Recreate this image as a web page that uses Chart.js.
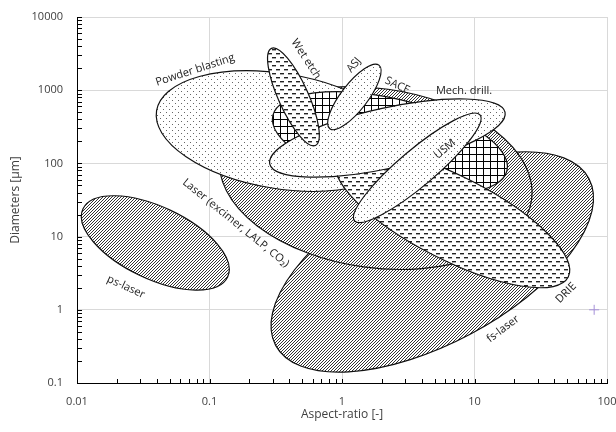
<!DOCTYPE html>
<html>
<head>
<meta charset="utf-8">
<script src="https://cdn.jsdelivr.net/npm/chart.js@4.4.1/dist/chart.umd.min.js"></script>
<style>
  html, body { margin: 0; padding: 0; background: #fff; }
  #wrap { width: 616px; height: 432px; }
</style>
</head>
<body>
<div id="wrap"><canvas id="chart"></canvas></div>
<script>
// axis decades and their labels
const xDecades = [0.01, 0.1, 1, 10, 100]
const xTickLabels = ['0.01', '0.1', '1', '10', '100']
const yDecades = [0.1, 1, 10, 100, 1000, 10000]
const yTickLabels = ['0.1', '1', '10', '100', '1000', '10000']

// process windows, drawn back to front
const regionNames = ['fs-laser', 'Laser (excimer, LALP, CO\u2082)', 'Powder blasting', 'SACE', 'DRIE',
  'Mech. drill.', 'USM', 'Wet etch', 'ASJ', 'ps-laser']
// ellipse centre [aspect-ratio, diameter]
const regionCenters = [[4.8, 4.5], [1.8, 63], [0.34, 277], [2.3, 190], [6.8, 18],
  [2.2, 222], [3.7, 87], [0.43, 810], [1.24, 810], [0.039, 8.2]]
// end of the long axis [aspect-ratio, diameter]
const regionTips = [[73, 62], [27, 32], [2.9, 146], [17.6, 80], [51, 2.8],
  [17, 500], [11, 460], [0.63, 176], [1.9, 2200], [0.137, 2.8]]
// short axis / long axis
const regionRatios = [0.46, 0.57, 0.46, 0.37, 0.32, 0.25, 0.22, 0.28, 0.33, 0.45]
// where each name is written [aspect-ratio, diameter]
const labelAt = [[16.4, 0.547], [0.158, 15.3], [0.0778, 1888], [2.62, 1160], [49.1, 1.70],
  [8.34, 975], [5.98, 157], [0.535, 2668], [1.23, 2210], [0.0234, 2.05]]

const markerPoint = [{x: 80, y: 1}]

// styles
const fillKind = {
  'fs-laser': 'hatch', 'Laser (excimer, LALP, CO\u2082)': 'hatch', 'ps-laser': 'hatch',
  'Powder blasting': 'dots', 'Mech. drill.': 'dots', 'USM': 'dots', 'ASJ': 'dots',
  'Wet etch': 'dashes', 'DRIE': 'dashes', 'SACE': 'grid'
}
const labelAngle = [-37, 39, -18, 25, -45, 0, -40, 57, -50, 25]
const FONT = '"Open Sans", "Liberation Sans", sans-serif'

function makePattern(ctx, kind) {
  const t = document.createElement('canvas')
  const g = t.getContext('2d')
  if (kind == 'hatch') {
    t.width = 3; t.height = 3
    g.fillStyle = '#fff'; g.fillRect(0, 0, 3, 3)
    g.fillStyle = '#333'
    g.fillRect(0, 2, 1, 1); g.fillRect(1, 1, 1, 1); g.fillRect(2, 0, 1, 1)
  } else if (kind == 'dots') {
    t.width = 6; t.height = 6
    g.fillStyle = '#fff'; g.fillRect(0, 0, 6, 6)
    g.fillStyle = '#666'
    g.fillRect(1, 1, 1, 1); g.fillRect(4, 4, 1, 1)
  } else if (kind == 'dashes') {
    t.width = 8; t.height = 8
    g.fillStyle = '#fff'; g.fillRect(0, 0, 8, 8)
    g.fillStyle = '#222'
    g.fillRect(0, 1, 4, 1.4); g.fillRect(4, 5, 4, 1.4)
  } else {
    t.width = 7; t.height = 7
    g.fillStyle = '#fff'; g.fillRect(0, 0, 7, 7)
    g.strokeStyle = '#000'; g.lineWidth = 1
    g.beginPath()
    g.moveTo(0.5, 0); g.lineTo(0.5, 7)
    g.moveTo(0, 0.5); g.lineTo(7, 0.5)
    g.stroke()
  }
  return ctx.createPattern(t, 'repeat')
}

const regionPlugin = {
  id: 'regions',
  beforeDatasetsDraw(chart) {
    const ctx = chart.ctx
    const xs = chart.scales.x, ys = chart.scales.y
    const a = chart.chartArea
    const patterns = {}
    ;['hatch', 'dots', 'dashes', 'grid'].forEach(k => patterns[k] = makePattern(ctx, k))
    ctx.save()
    ctx.beginPath()
    ctx.rect(a.left, a.top, a.right - a.left, a.bottom - a.top)
    ctx.clip()
    for (let i = 0; i < regionNames.length; i++) {
      const cx = xs.getPixelForValue(regionCenters[i][0])
      const cy = ys.getPixelForValue(regionCenters[i][1])
      const tx = xs.getPixelForValue(regionTips[i][0])
      const ty = ys.getPixelForValue(regionTips[i][1])
      const len = Math.hypot(tx - cx, ty - cy)
      const rot = Math.atan2(ty - cy, tx - cx)
      ctx.beginPath()
      ctx.ellipse(cx, cy, len, len * regionRatios[i], rot, 0, Math.PI * 2)
      ctx.fillStyle = patterns[fillKind[regionNames[i]]]
      ctx.fill()
      ctx.strokeStyle = '#111'
      ctx.lineWidth = 1.2
      ctx.stroke()
    }
    ctx.restore()

    ctx.save()
    ctx.fillStyle = '#222'
    ctx.font = '11px ' + FONT
    ctx.textAlign = 'center'
    ctx.textBaseline = 'middle'
    for (let i = 0; i < regionNames.length; i++) {
      const px = xs.getPixelForValue(labelAt[i][0])
      const py = ys.getPixelForValue(labelAt[i][1])
      ctx.save()
      ctx.translate(px, py)
      ctx.rotate(labelAngle[i] * Math.PI / 180)
      ctx.fillText(regionNames[i], 0, 0)
      ctx.restore()
    }
    ctx.restore()
  },
  afterDraw(chart) {
    const ctx = chart.ctx
    const a = chart.chartArea
    ctx.save()
    ctx.strokeStyle = '#000'
    ctx.lineWidth = 1
    ctx.beginPath()
    chart.scales.x.ticks.forEach(t => {
      const px = Math.round(chart.scales.x.getPixelForValue(t.value)) + 0.5
      ctx.moveTo(px, a.bottom); ctx.lineTo(px, a.bottom - 4)
    })
    chart.scales.y.ticks.forEach(t => {
      const py = Math.round(chart.scales.y.getPixelForValue(t.value)) + 0.5
      ctx.moveTo(a.left, py); ctx.lineTo(a.left + 5, py)
    })
    ctx.stroke()
    ctx.restore()
  }
}

function logTicks(decades) {
  let out = []
  for (let i = 0; i < decades.length; i++) {
    out.push({value: decades[i], major: true})
    if (i < decades.length - 1) {
      for (let m = 2; m <= 9; m++) out.push({value: +(decades[i] * m).toPrecision(3), major: false})
    }
  }
  return out
}

function labelFor(v, decades, labels) {
  for (let i = 0; i < decades.length; i++) {
    if (Math.abs(Math.log10(v) - Math.log10(decades[i])) < 1e-6) return labels[i]
  }
  return ''
}

const gridColor = c => (c.tick && c.tick.major) ? '#d9d9d9' : 'rgba(0,0,0,0)'

new Chart(document.getElementById('chart'), {
  type: 'scatter',
  data: {
    datasets: [{
      data: markerPoint,
      pointStyle: 'cross',
      radius: 5,
      borderColor: '#a58fd8',
      backgroundColor: '#a58fd8',
      borderWidth: 1
    }]
  },
  options: {
    responsive: true,
    maintainAspectRatio: false,
    animation: false,
    layout: { padding: { top: 17, right: 9, left: 0, bottom: 0 } },
    plugins: { legend: { display: false }, tooltip: { enabled: false } },
    scales: {
      x: {
        type: 'logarithmic', min: 0.01, max: 100,
        afterBuildTicks: s => { s.ticks = logTicks(xDecades) },
        afterFit: s => { s.height = 49; s.paddingLeft = 0; s.paddingRight = 0 },
        grid: { drawTicks: false, color: gridColor },
        border: { color: '#000', width: 1 },
        ticks: {
          autoSkip: false, maxRotation: 0, padding: 12, color: '#404040',
          font: { family: FONT, size: 11 },
          callback: v => labelFor(v, xDecades, xTickLabels)
        },
        title: {
          display: true, text: 'Aspect-ratio [-]', color: '#404040',
          font: { family: FONT, size: 12 }, padding: { top: 0, bottom: 10 }
        }
      },
      y: {
        type: 'logarithmic', min: 0.1, max: 10000,
        afterBuildTicks: s => { s.ticks = logTicks(yDecades) },
        afterFit: s => { s.width = 77; s.paddingTop = 0; s.paddingBottom = 0 },
        grid: { drawTicks: false, color: gridColor },
        border: { color: '#000', width: 1 },
        ticks: {
          autoSkip: false, padding: 14, color: '#404040',
          font: { family: FONT, size: 11 },
          callback: v => labelFor(v, yDecades, yTickLabels)
        },
        title: {
          display: true, text: 'Diameters [\u00b5m]', color: '#404040',
          font: { family: FONT, size: 12 }, padding: { top: 8, bottom: 0 }
        }
      }
    }
  },
  plugins: [regionPlugin]
})
</script>
</body>
</html>
